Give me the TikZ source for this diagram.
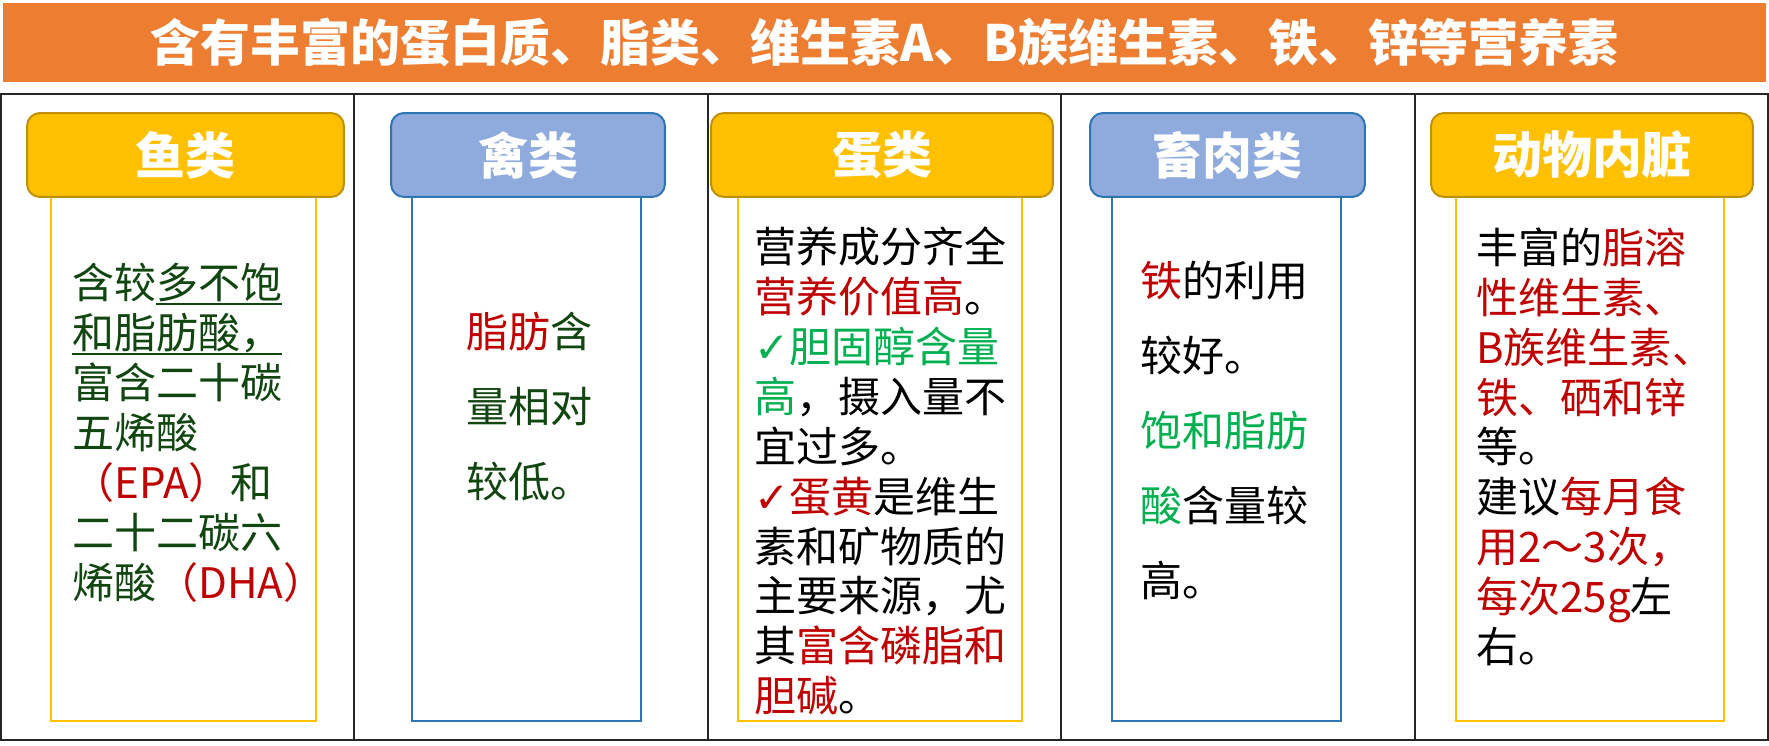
\documentclass[tikz,border=0pt]{standalone}
\usepackage{fontspec}
\setmainfont{Noto Sans CJK SC}
\newfontfamily\tickfont{DejaVu Sans}
\definecolor{titleorange}{RGB}{237,125,49}
\definecolor{gold}{RGB}{255,192,0}
\definecolor{golddark}{RGB}{191,144,0}
\definecolor{skyfill}{RGB}{143,170,220}
\definecolor{skyline}{RGB}{46,117,182}
\definecolor{deepred}{RGB}{192,0,0}
\definecolor{leafgreen}{RGB}{0,176,80}
\definecolor{darkleaf}{RGB}{17,70,17}
\newcommand\markline[1]{\leavevmode\setbox0\hbox{#1}\rlap{\rule[-3.5pt]{\wd0}{1.1pt}}\box0}
\begin{document}
\begin{tikzpicture}[x=0.02cm,y=-0.02cm,
    headbox/.style={rounded corners=0.26cm, line width=0.04cm, text=white, inner sep=0pt,
        minimum height=1.68cm, font=\fontsize{28.45pt}{30pt}\selectfont\bfseries},
    goldhead/.style={headbox, fill=gold, draw=golddark},
    skyhead/.style={headbox, fill=skyfill, draw=skyline},
    body/.style={inner sep=0pt, anchor=north west, align=left, text width=6.6cm,
        font=\fontsize{23.91pt}{28.45pt}\selectfont},
    widebody/.style={body, font=\fontsize{23.91pt}{42.68pt}\selectfont}]
\useasboundingbox (0,0) rectangle (1769,746);

        \node[fill=titleorange, text=white, inner sep=0pt, minimum width=35.26cm, minimum height=1.58cm,
            font=\fontsize{28.45pt}{30pt}\selectfont\bfseries] (title) at (884.5,42.5)
            {含有丰富的蛋白质、脂类、维生素A、B族维生素、铁、锌等营养素};

        \draw[black!85, line width=0.04cm] (1,94) rectangle (1768,740);
        \foreach \xx in {354,707.5,1061,1415}
                \draw[black!85, line width=0.04cm] (\xx,94) -- (\xx,740);

        \draw[gold, line width=0.035cm] (51,197) rectangle (316,721);
        \draw[skyline, line width=0.035cm] (412,197) rectangle (641,721);
        \draw[gold, line width=0.035cm] (738,197) rectangle (1022,721);
        \draw[skyline, line width=0.035cm] (1112,197) rectangle (1341,721);
        \draw[gold, line width=0.035cm] (1456,197) rectangle (1724,721);

        \node[goldhead, minimum width=6.34cm] (fish) at (185.5,155) {鱼类};
        \node[skyhead, minimum width=5.48cm] (poultry) at (528,155) {禽类};
        \node[goldhead, minimum width=6.84cm] (egg) at (882,155) {蛋类};
        \node[skyhead, minimum width=5.5cm] (meat) at (1227.5,155) {畜肉类};
        \node[goldhead, minimum width=6.44cm] (offal) at (1592,155) {动物内脏};

        \node[body, text=darkleaf] (fishtext) at (72,263)
            {含较\markline{多不饱}\\
             \markline{和脂肪酸，}\\
             富含二十碳\\
             五烯酸\\
             \textcolor{deepred}{（EPA）}和\\
             二十二碳六\\
             烯酸\textcolor{deepred}{（DHA）}};

        \node[widebody, text=darkleaf] (poultrytext) at (466,312)
            {\textcolor{deepred}{脂肪}含\\
             量相对\\
             较低。};

        \node[body, text=black] (eggtext) at (754,226)
            {营养成分齐全\\
             \textcolor{deepred}{营养价值高}。\\
             \textcolor{leafgreen}{{\tickfont ✓}胆固醇含量}\\
             \textcolor{leafgreen}{高}，摄入量不\\
             宜过多。\\
             \textcolor{deepred}{{\tickfont ✓}蛋黄}是维生\\
             素和矿物质的\\
             主要来源，尤\\
             其\textcolor{deepred}{富含磷脂和}\\
             \textcolor{deepred}{胆碱}。};

        \node[widebody, text=black] (meattext) at (1140,261)
            {\textcolor{deepred}{铁}的利用\\
             较好。\\
             \textcolor{leafgreen}{饱和脂肪}\\
             \textcolor{leafgreen}{酸}含量较\\
             高。};

        \node[body, text=black] (offaltext) at (1476,227)
            {丰富的\textcolor{deepred}{脂溶}\\
             \textcolor{deepred}{性维生素、}\\
             \textcolor{deepred}{B族维生素、}\\
             \textcolor{deepred}{铁、硒和锌}\\
             等。\\
             建议\textcolor{deepred}{每月食}\\
             \textcolor{deepred}{用2～3次，}\\
             \textcolor{deepred}{每次25g}左\\
             右。};
\end{tikzpicture}
\end{document}
